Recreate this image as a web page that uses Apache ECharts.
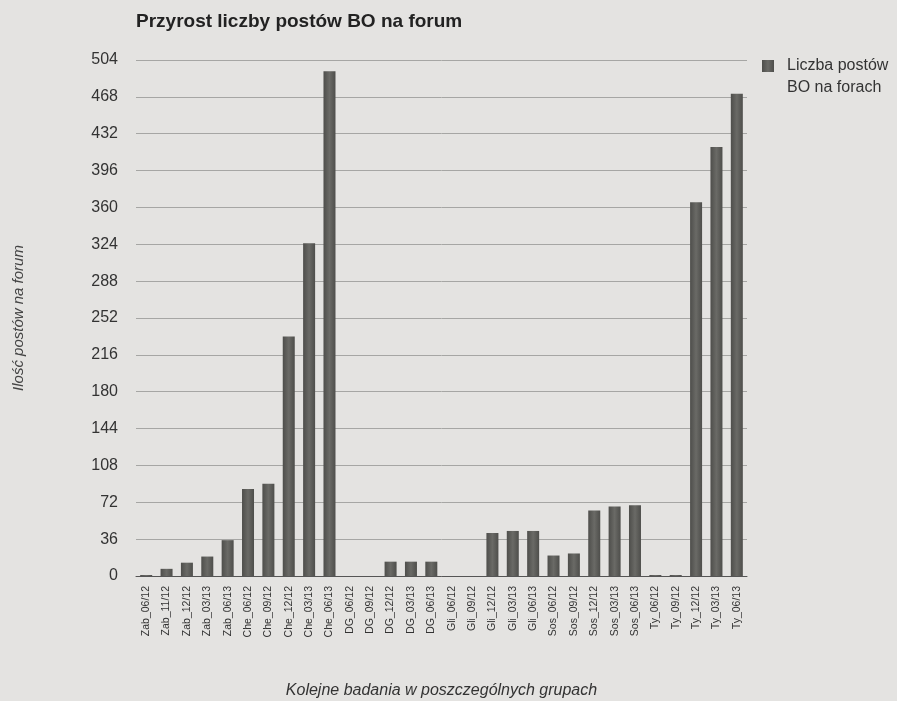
<!DOCTYPE html>
<html>
<head>
<meta charset="utf-8">
<script src="https://cdn.jsdelivr.net/npm/echarts@6/dist/echarts.min.js"></script>
<style>
  html, body { margin: 0; padding: 0; background: #e4e3e1; }
  #chart { width: 897px; height: 701px; }
</style>
</head>
<body>
<div id="chart"></div>
<script>
// Survey rounds per forum group
const categories = [
  'Zab_06/12', 'Zab_11/12', 'Zab_12/12', 'Zab_03/13', 'Zab_06/13',
  'Che_06/12', 'Che_09/12', 'Che_12/12', 'Che_03/13', 'Che_06/13',
  'DG_06/12', 'DG_09/12', 'DG_12/12', 'DG_03/13', 'DG_06/13',
  'Gli_06/12', 'Gli_09/12', 'Gli_12/12', 'Gli_03/13', 'Gli_06/13',
  'Sos_06/12', 'Sos_09/12', 'Sos_12/12', 'Sos_03/13', 'Sos_06/13',
  'Ty_06/12', 'Ty_09/12', 'Ty_12/12', 'Ty_03/13', 'Ty_06/13'
];

// Number of posts counted in each round
const postCounts = [
  1, 7, 13, 19, 35,
  85, 90, 234, 325, 493,
  0, 0, 14, 14, 14,
  0, 0, 42, 44, 44,
  20, 22, 64, 68, 69,
  1, 1, 365, 419, 471
];

const seriesName = 'Liczba postów BO na forach';
const yMin = 0;
const yMax = 504;
const yStep = 36;

const chart = echarts.init(document.getElementById('chart'));

chart.setOption({
  backgroundColor: '#e4e3e1',
  animation: false,
  textStyle: { fontFamily: 'Liberation Sans, Arial, sans-serif' },
  title: {
    text: 'Przyrost liczby postów BO na forum',
    left: 136,
    top: 12,
    padding: 0,
    textStyle: {
      fontFamily: 'Liberation Sans, Arial, sans-serif',
      fontSize: 19,
      fontWeight: 'bold',
      color: '#222'
    }
  },
  legend: {
    left: 762,
    top: 33,
    padding: 0,
    itemWidth: 12,
    itemHeight: 12,
    icon: 'rect',
    // leading empty line keeps the first text line level with the swatch
    formatter: () => '\nLiczba postów\nBO na forach',
    textStyle: {
      fontSize: 16,
      lineHeight: 22,
      color: '#333',
      padding: [0, 0, 0, 8]
    },
    data: [seriesName]
  },
  grid: {
    left: 136,
    right: 150,
    top: 60,
    bottom: 125,
    containLabel: false,
    outerBoundsMode: 'none'
  },
  xAxis: {
    type: 'category',
    data: categories,
    name: 'Kolejne badania w poszczególnych grupach',
    nameLocation: 'middle',
    nameGap: 107,
    nameTextStyle: {
      fontSize: 16,
      fontStyle: 'italic',
      color: '#333'
    },
    axisLine: { lineStyle: { color: '#555', width: 1 } },
    axisTick: { show: false },
    axisLabel: {
      interval: 0,
      rotate: 90,
      fontSize: 10.5,
      color: '#333',
      margin: 10
    }
  },
  yAxis: {
    type: 'value',
    min: yMin,
    max: yMax,
    interval: yStep,
    name: 'Ilość postów na forum',
    nameLocation: 'middle',
    nameGap: 110,
    nameTextStyle: {
      fontSize: 15,
      fontStyle: 'italic',
      color: '#444'
    },
    axisLine: { show: false },
    axisTick: { show: false },
    axisLabel: {
      fontSize: 16,
      color: '#333',
      margin: 18
    },
    splitLine: { lineStyle: { color: '#a6a6a4', width: 1 } }
  },
  series: [{
    name: seriesName,
    type: 'bar',
    data: postCounts,
    barWidth: 12,
    itemStyle: {
      color: new echarts.graphic.LinearGradient(0, 0, 1, 0, [
        { offset: 0, color: '#4e4e4b' },
        { offset: 0.5, color: '#6a6a66' },
        { offset: 1, color: '#4e4e4b' }
      ])
    }
  }]
});
</script>
</body>
</html>
